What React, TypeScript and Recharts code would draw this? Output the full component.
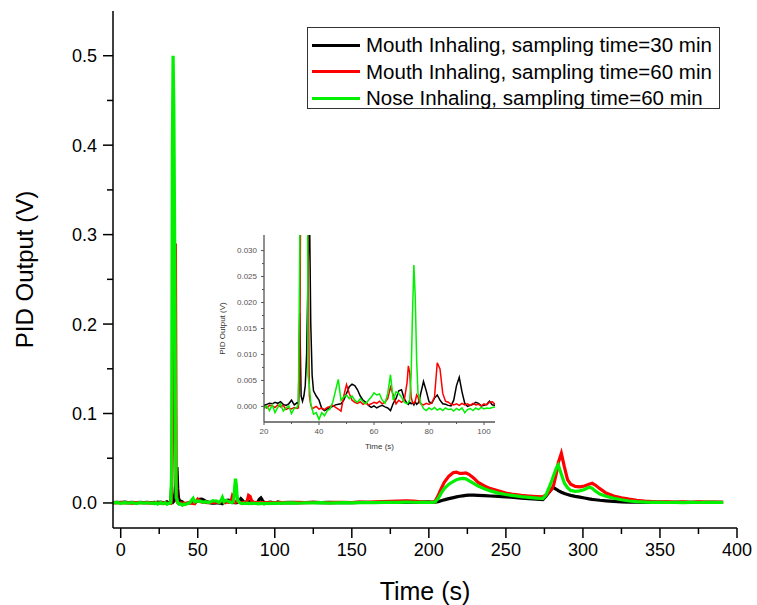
import React from 'react';
import { LineChart, Line, XAxis, YAxis, Label } from 'recharts';

const FONT = '"Liberation Sans", Arial, sans-serif';

// time (s)
const TIME = [
  -5, -2.5, 0, 2.5, 5, 7.5, 10, 12.5, 15, 17.5,
  20, 21, 22, 23, 24, 25, 26, 27, 28, 29, 30, 31, 32,
  32.5, 33, 33.5, 34, 34.5, 35, 35.5, 36, 36.5, 37, 37.5, 38,
  39, 40, 41, 42, 43, 44, 45, 46, 47, 48, 49, 50, 51, 52, 53, 54, 55, 56, 57, 58, 59, 60,
  61, 62, 63, 64, 65, 66, 67, 68, 69, 70, 71,
  72, 72.5, 73, 73.5, 74, 74.5, 75, 75.5, 76, 76.5, 77,
  78, 79, 80, 81, 82, 83, 84, 85, 86, 87, 88, 89, 90, 91, 92, 93, 94, 95, 96, 97, 98, 99,
  100, 101, 102, 103, 104,
  105, 110, 115, 120, 125, 130, 135, 140, 145, 150, 155, 160, 165, 170, 175, 180, 185, 190, 195, 200,
  202, 204, 206, 208, 210, 213, 216, 218, 220, 222, 224, 226, 229, 232, 236, 240, 245, 250, 255, 260,
  265, 270, 274, 276, 278, 280, 281, 283, 284, 286, 288, 290, 292, 295, 298, 301, 304, 306, 308, 311,
  315, 320, 325, 330, 335, 340, 345, 350, 355, 360, 365, 370, 375, 380, 385, 391,
];

// Mouth Inhaling, sampling time=30 min
const MOUTH_30 = [
  0.0005, 0.0008, 0.0003, 0.0009, 0.0004, 0.0007, 0.0002, 0.0008, 0.0005, 0.0006,
  0.0002, 0.0004, 0.0006, 0.0005, 0.0008, 0.0006, 0.0009, 0.0004, 0.0002, 0.0005, 0.0012, 0.0003, 0.0007,
  0.0005, 0.018, 0.002, 0.001, 0.002, 0.004, 0.01, 0.025, 0.04, 0.016, 0.006, 0.003,
  0.002, 0.0012, -0.0004, -0.0008, -0.0005, -0.0002, 0.0, 0.0003, 0.0004, 0.0005, 0.0012, 0.0025, 0.0038, 0.0043, 0.004, 0.0032, 0.002, 0.0012, 0.0008, 0.0002, -0.0002, 0.0001,
  -0.0003, 0.0, 0.0002, -0.0001, -0.0003, -0.0008, 0.0006, 0.0015, 0.003, 0.0032, 0.0015,
  0.0006, 0.0004, 0.0008, 0.0005, 0.0007, 0.0003, 0.0009, 0.0004, 0.0006, 0.0012, 0.0025,
  0.0048, 0.003, 0.0009, 0.0006, 0.0016, 0.0022, 0.0012, 0.0005, 0.0004, 0.0002, 0.0001, 0.0012, 0.004, 0.0056, 0.0028, 0.0006, 0.0, 0.0002, 0.0004, 0.0008, 0.0006, 0.0001,
  0.0002, 0.0004, 0.001, 0.0003, 0.0002,
  0.0004, 0.0006, 0.0003, 0.0005, 0.0007, 0.0004, 0.0006, 0.0003, 0.0005, 0.0004, 0.0006, 0.0008, 0.0005, 0.0007, 0.0006, 0.0009, 0.0007, 0.0008, 0.001, 0.0012,
  0.0008, 0.001, 0.0015, 0.0025, 0.0035, 0.0048, 0.006, 0.0068, 0.0075, 0.008, 0.0085, 0.0088, 0.0088, 0.0085, 0.0082, 0.0078, 0.0073, 0.0068, 0.0062, 0.0055,
  0.0048, 0.0042, 0.0038, 0.0075, 0.012, 0.0165, 0.0171, 0.015, 0.0138, 0.012, 0.0105, 0.0095, 0.0085, 0.0073, 0.0065, 0.0055, 0.0045, 0.004, 0.0036, 0.003,
  0.0024, 0.0018, 0.0013, 0.001, 0.0008, 0.0007, 0.0009, 0.0006, 0.0008, 0.0007, 0.0006, 0.0008, 0.0007, 0.0006, 0.0007, 0.0006,
];

// Mouth Inhaling, sampling time=60 min
const MOUTH_60 = [
  0.0003, 0.0001, 0.0006, 0.0002, 0.0004, -0.0001, 0.0005, 0.0003, 0.0001, 0.0004,
  0.0, -0.0003, 0.0002, 0.0001, -0.0002, 0.0003, -0.0001, 0.0002, -0.0006, -0.0003, -0.0005, -0.0002, -0.0004,
  -0.0003, 0.005, 0.06, 0.15, 0.22, 0.27, 0.29, 0.03, 0.002, 0.0003, -0.0004, -0.0003,
  0.0, -0.0005, -0.0003, -0.0006, -0.0002, 0.0, 0.0002, -0.0002, -0.0005, -0.0009, 0.002, 0.0042, 0.0025, 0.0012, 0.0008, 0.0006, 0.0009, 0.0004, 0.0007, 0.0003, 0.0005, 0.0008,
  0.0006, 0.001, 0.0005, 0.0008, 0.0015, 0.0037, 0.0022, 0.0005, 0.0012, 0.0008, 0.0012,
  0.0045, 0.0078, 0.0065, 0.0018, 0.0008, 0.0006, 0.001, 0.0022, 0.0018, 0.0008, 0.0005,
  0.0003, 0.0006, 0.0004, 0.0007, 0.0018, 0.0084, 0.0072, 0.0025, 0.001, 0.0008, 0.0004, 0.0003, 0.0005, 0.0002, 0.0006, 0.0003, 0.0005, 0.0002, 0.0006, 0.0003, 0.0004, 0.0001,
  0.0005, 0.0003, 0.0008, 0.0009, 0.0004,
  0.0005, 0.0003, 0.0006, 0.0004, 0.0007, 0.0005, 0.0003, 0.0006, 0.0008, 0.0005, 0.0009, 0.0007, 0.0011, 0.0014, 0.0018, 0.0021, 0.0024, 0.002, 0.0013, 0.001,
  0.001, 0.0015, 0.008, 0.016, 0.023, 0.03, 0.034, 0.0345, 0.033, 0.033, 0.0335, 0.032, 0.028, 0.023, 0.019, 0.016, 0.0135, 0.011, 0.0095, 0.0085,
  0.0078, 0.0072, 0.0068, 0.009, 0.012, 0.016, 0.02, 0.035, 0.045, 0.0555, 0.04, 0.026, 0.021, 0.0185, 0.018, 0.019, 0.021, 0.022, 0.02, 0.016,
  0.011, 0.0078, 0.0058, 0.0042, 0.0028, 0.002, 0.0015, 0.0012, 0.0013, 0.0009, 0.0012, 0.0008, 0.0011, 0.0009, 0.001, 0.0008,
];

// Nose Inhaling, sampling time=60 min
const NOSE_60 = [
  -0.0003, 0.0006, -0.0005, 0.0004, -0.0002, 0.0005, -0.0006, 0.0003, -0.0001, 0.0002,
  -0.0004, 0.0001, -0.0008, 0.0003, -0.0012, -0.0002, 0.0005, -0.0009, -0.0003, 0.0001, -0.0014, -0.0004, -0.0002,
  0.0005, 0.03, 0.39, 0.5, 0.44, 0.3, 0.12, 0.006, 0.004, 0.0005, -0.0005, -0.0015,
  -0.0012, -0.0025, -0.0012, -0.0018, -0.0008, -0.0005, 0.0008, 0.003, 0.0052, 0.0012, 0.0018, 0.0022, 0.0015, 0.002, 0.0012, 0.0008, 0.0015, 0.0009, 0.0005, 0.0012, 0.0018, 0.0026,
  0.0022, 0.0024, 0.0012, 0.0006, 0.0025, 0.0061, 0.0012, 0.0028, 0.0025, 0.0018, 0.0008,
  0.0005, 0.0008, 0.0012, 0.006, 0.018, 0.0272, 0.021, 0.009, 0.0025, 0.0018, 0.0006,
  -0.0004, -0.0008, -0.0003, -0.0006, -0.0002, -0.0007, -0.0004, -0.0008, -0.0003, -0.0006, -0.0005, -0.0009, -0.0004, -0.0007, -0.0003, -0.0012, -0.0006, -0.0004, -0.0008, -0.0003, -0.0006, -0.0002,
  -0.0005, -0.0003, -0.0004, -0.0002, -0.0001,
  -0.0002, 0.0001, -0.0003, 0.0002, 0.0, 0.0003, -0.0001, 0.0002, 0.0004, 0.0001, 0.0003, 0.0005, 0.0004, 0.0006, 0.0008, 0.0007, 0.0009, 0.0008, 0.0007, 0.0006,
  0.0006, 0.001, 0.005, 0.011, 0.016, 0.021, 0.024, 0.026, 0.027, 0.0275, 0.027, 0.025, 0.022, 0.019, 0.016, 0.0135, 0.011, 0.0095, 0.0082, 0.007,
  0.0062, 0.0055, 0.005, 0.009, 0.017, 0.026, 0.031, 0.04, 0.0425, 0.032, 0.022, 0.017, 0.014, 0.013, 0.0135, 0.015, 0.0175, 0.0165, 0.0135, 0.01,
  0.0075, 0.0052, 0.0036, 0.0022, 0.0014, 0.001, 0.0006, 0.0008, 0.0005, 0.0007, 0.0004, 0.0006, 0.0005, 0.0007, 0.0006, 0.0005,
];

const SERIES = [
  { key: 'm30', name: 'Mouth Inhaling, sampling time=30 min', color: '#000000' },
  { key: 'm60', name: 'Mouth Inhaling, sampling time=60 min', color: '#ff0000' },
  { key: 'n60', name: 'Nose Inhaling, sampling time=60 min', color: '#00f000' },
];

const X_TICKS = [0, 25, 50, 75, 100, 125, 150, 175, 200, 225, 250, 275, 300, 325, 350, 375, 400];
const Y_TICKS = [0, 0.05, 0.1, 0.15, 0.2, 0.25, 0.3, 0.35, 0.4, 0.45, 0.5];
const INSET_X_TICKS = [20, 30, 40, 50, 60, 70, 80, 90, 100];
const INSET_Y_TICKS = [0, 0.0025, 0.005, 0.0075, 0.01, 0.0125, 0.015, 0.0175, 0.02, 0.0225, 0.025, 0.0275, 0.03];

const data = TIME.map((t, i) => ({ t, m30: MOUTH_30[i], m60: MOUTH_60[i], n60: NOSE_60[i] }));

const MainXTick = ({ x, y, payload }: any) => {
  const major = payload.value % 50 === 0;
  return (
    <g>
      <line x1={x} x2={x} y1={y} y2={y + (major ? 10 : 6)} stroke="#000" strokeWidth={1.5} />
      {major && (
        <text x={x} y={y + 28} textAnchor="middle" fontSize={18} fill="#000" fontFamily={FONT}>
          {payload.value}
        </text>
      )}
    </g>
  );
};

const MainYTick = ({ x, y, payload }: any) => {
  const major = Math.round(payload.value * 100) % 10 === 0;
  return (
    <g>
      <line x1={x} x2={x - (major ? 10 : 6)} y1={y} y2={y} stroke="#000" strokeWidth={1.5} />
      {major && (
        <text x={x - 16} y={y + 6.5} textAnchor="end" fontSize={18} fill="#000" fontFamily={FONT}>
          {payload.value.toFixed(1)}
        </text>
      )}
    </g>
  );
};

const InsetXTick = ({ x, y, payload }: any) => {
  const major = payload.value % 20 === 0;
  return (
    <g>
      <line x1={x} x2={x} y1={y} y2={y + (major ? 3 : 2)} stroke="#555" strokeWidth={1} />
      {major && (
        <text x={x} y={y + 12} textAnchor="middle" fontSize={8} fill="#555" fontFamily={FONT}>
          {payload.value}
        </text>
      )}
    </g>
  );
};

const InsetYTick = ({ x, y, payload }: any) => {
  const major = Math.round(payload.value * 10000) % 50 === 0;
  return (
    <g>
      <line x1={x} x2={x - (major ? 3 : 2)} y1={y} y2={y} stroke="#555" strokeWidth={1} />
      {major && (
        <text x={x - 7} y={y + 2.8} textAnchor="end" fontSize={8} fill="#555" fontFamily={FONT}>
          {payload.value.toFixed(3)}
        </text>
      )}
    </g>
  );
};

export default function App() {
  return (
    <div style={{ position: 'absolute', left: 0, top: 0, width: 757, height: 605, background: '#fff', fontFamily: FONT }}>
      <LineChart width={757} height={605} data={data} margin={{ top: 11, right: 20, left: 0, bottom: 0 }}>
        <XAxis
          dataKey="t"
          type="number"
          domain={[-5, 400]}
          ticks={X_TICKS}
          interval={0}
          tickSize={0}
          tickMargin={0}
          tick={(p: any) => <MainXTick {...p} />}
          height={77}
          axisLine={{ stroke: '#000', strokeWidth: 1.5 }}
          allowDataOverflow
        >
          <Label value="Time (s)" position="insideBottom" offset={5} style={{ fontSize: 25, fill: '#000', fontFamily: FONT }} />
        </XAxis>
        <XAxis
          xAxisId="top"
          orientation="top"
          dataKey="t"
          type="number"
          domain={[-5, 400]}
          tick={false}
          tickLine={false}
          height={0}
          axisLine={{ stroke: '#000', strokeWidth: 1.5 }}
        />
        <YAxis
          type="number"
          domain={[-0.028, 0.55]}
          ticks={Y_TICKS}
          interval={0}
          tickSize={0}
          tickMargin={0}
          tick={(p: any) => <MainYTick {...p} />}
          width={113}
          axisLine={{ stroke: '#000', strokeWidth: 1.5 }}
          allowDataOverflow
        >
          <Label
            value="PID Output (V)"
            angle={-90}
            position="insideLeft"
            offset={24}
            style={{ fontSize: 24, fill: '#000', fontFamily: FONT, textAnchor: 'middle' }}
          />
        </YAxis>
        <YAxis
          yAxisId="right"
          orientation="right"
          type="number"
          domain={[-0.028, 0.55]}
          tick={false}
          tickLine={false}
          width={0}
          axisLine={{ stroke: '#000', strokeWidth: 1.5 }}
        />
        {SERIES.map((s) => (
          <Line
            key={s.key}
            type="linear"
            dataKey={s.key}
            name={s.name}
            stroke={s.color}
            strokeWidth={3.2}
            dot={false}
            isAnimationActive={false}
          />
        ))}
      </LineChart>

      {/* inset: zoom of 20-104 s */}
      <div style={{ position: 'absolute', left: 200, top: 225 }}>
        <LineChart width={300} height={230} data={data} margin={{ top: 10, right: 5, left: 0, bottom: 0 }}>
          <XAxis
            dataKey="t"
            type="number"
            domain={[20, 104]}
            ticks={INSET_X_TICKS}
            interval={0}
            tickSize={0}
            tickMargin={0}
            tick={(p: any) => <InsetXTick {...p} />}
            height={33}
            axisLine={{ stroke: '#555', strokeWidth: 1.3 }}
            allowDataOverflow
          >
            <Label value="Time (s)" position="insideBottom" offset={6} style={{ fontSize: 8, fill: '#333', fontFamily: FONT }} />
          </XAxis>
          <XAxis
            xAxisId="top"
            orientation="top"
            dataKey="t"
            type="number"
            domain={[20, 104]}
            tick={false}
            tickLine={false}
            height={0}
            axisLine={{ stroke: '#555', strokeWidth: 1.3 }}
          />
          <YAxis
            type="number"
            domain={[-0.003, 0.033]}
            ticks={INSET_Y_TICKS}
            interval={0}
            tickSize={0}
            tickMargin={0}
            tick={(p: any) => <InsetYTick {...p} />}
            width={64}
            axisLine={{ stroke: '#555', strokeWidth: 1.3 }}
            allowDataOverflow
          >
            <Label
              value="PID Output (V)"
              angle={-90}
              position="insideLeft"
              offset={22}
              style={{ fontSize: 8, fill: '#333', fontFamily: FONT, textAnchor: 'middle' }}
            />
          </YAxis>
          <YAxis
            yAxisId="right"
            orientation="right"
            type="number"
            domain={[-0.003, 0.033]}
            tick={false}
            tickLine={false}
            width={0}
            axisLine={{ stroke: '#555', strokeWidth: 1.3 }}
          />
          {SERIES.map((s) => (
            <Line
              key={s.key}
              type="linear"
              dataKey={s.key}
              stroke={s.color}
              strokeWidth={1.5}
              dot={false}
              isAnimationActive={false}
            />
          ))}
        </LineChart>
      </div>

      {/* legend box */}
      <div
        style={{
          position: 'absolute',
          left: 307,
          top: 27,
          width: 411,
          height: 80,
          border: '1px solid #333',
          background: '#fff',
        }}
      >
        {SERIES.map((s, i) => (
          <div
            key={s.key}
            style={{ position: 'absolute', left: 0, top: 4 + i * 26.5, height: 26, display: 'flex', alignItems: 'center' }}
          >
            <div style={{ marginLeft: 4, width: 48, height: 3, background: s.color }} />
            <span style={{ marginLeft: 6, fontSize: 20.5, color: '#000', whiteSpace: 'nowrap' }}>{s.name}</span>
          </div>
        ))}
      </div>
    </div>
  );
}
